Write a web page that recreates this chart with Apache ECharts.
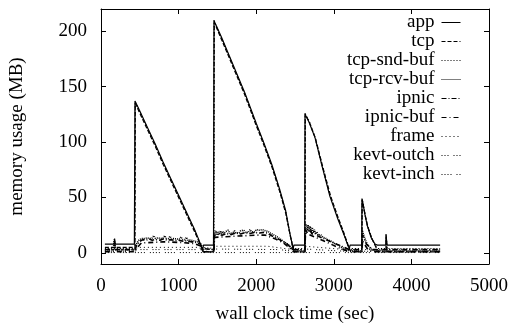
<!DOCTYPE html>
<html>
<head>
<meta charset="utf-8">
<script src="https://cdn.jsdelivr.net/npm/echarts@6/dist/echarts.min.js"></script>
<style>html,body{margin:0;padding:0;background:#fff}#c{width:512px;height:329px}</style>
</head>
<body>
<div id="c"></div>
<script>
const seriesNames = ['app','tcp','tcp-snd-buf','tcp-rcv-buf','ipnic','ipnic-buf','frame','kevt-outch','kevt-inch'];
const xTicks = [0,1000,2000,3000,4000,5000];
const yTicks = [0,50,100,150,200];

const app = [[50,8],[170,8],[175,13],[185,8],[430,8],[438,137],[445,136],[500,128],[600,113],[700,98],[800,82],[900,67],[1000,52],[1100,37],[1200,22],[1260,12],[1290,6],[1310,2],[1320,7],[1450,7],[1456,210],[1465,208],[1550,195],[1700,170],[1850,145],[2000,117],[2100,99],[2200,80],[2300,58],[2380,38],[2430,19],[2460,9],[2475,3],[2485,7],[2625,7],[2629,126],[2638,124],[2680,118],[2758,104],[2850,78],[2950,51],[3050,31],[3100,22],[3144,14],[3180,7],[3200,4],[3210,7],[3360,7],[3363,49],[3370,47],[3400,35],[3430,25],[3480,14],[3530,8],[3560,7],[3670,7],[3673,17],[3685,7],[4370,7]];
const tcp = [[50,5],[170,5],[175,11],[185,5],[438,5],[442,135],[500,126],[600,111],[700,96],[800,80],[900,65],[1000,50],[1100,35],[1200,20],[1265,10],[1300,4],[1320,1],[1450,1],[1460,208],[1550,193],[1700,168],[1850,143],[2000,115],[2100,97],[2200,78],[2300,56],[2380,36],[2435,17],[2470,6],[2490,1],[2629,1],[2633,125],[2685,118],[2765,103],[2860,77],[2960,51],[3060,31],[3115,21],[3160,12],[3195,5],[3220,1],[3363,1],[3366,48],[3405,34],[3437,24],[3490,13],[3545,5],[3580,1],[3673,1],[3676,15],[3688,1],[4370,1]];
const tcpSndBuf = [[50,4],[438,4],[440,136],[500,127],[600,112],[700,97],[800,81],[900,66],[1000,51],[1100,36],[1200,21],[1262,11],[1295,5],[1315,4],[1456,4],[1458,209],[1550,194],[1700,169],[1850,144],[2000,116],[2100,98],[2200,79],[2300,57],[2380,37],[2432,18],[2465,7],[2480,4],[2629,4],[2631,125],[2682,119],[2762,103],[2855,77],[2955,51],[3055,31],[3108,21],[3152,13],[3188,6],[3205,4],[3363,4],[3365,48],[3402,35],[3433,25],[3485,14],[3538,6],[3560,4],[3673,4],[3675,16],[3687,4],[4370,4]];
const tcpRcvBuf = [[50,3],[160,3],[170,12],[185,3],[438,3],[450,7],[480,11],[520,13],[540,14.5],[560,13],[590,13.5],[610,15],[630,13],[660,13.5],[680,15.5],[700,13],[730,13.5],[750,15],[770,13],[800,13.5],[820,15.5],[840,13],[870,13],[890,15],[910,12.5],[940,13],[960,14.5],[980,12.5],[1010,12.5],[1030,14.5],[1050,12],[1080,12],[1100,14],[1120,11.5],[1150,11.5],[1170,13],[1190,11],[1220,10.5],[1250,10],[1280,9],[1300,6],[1315,1],[1456,1],[1462,17],[1480,20],[1495,16],[1510,19.5],[1525,16.5],[1540,20],[1555,17],[1570,19.5],[1585,17],[1600,19],[1620,17.5],[1640,20.5],[1660,17.5],[1680,19],[1700,18],[1720,20],[1740,18],[1760,19.5],[1780,18],[1800,20],[1820,18.5],[1840,20.5],[1860,18.5],[1880,19.5],[1900,18.5],[1920,21],[1940,19],[1960,20],[1980,19],[2000,21],[2020,19.5],[2040,20.5],[2060,19.5],[2080,21],[2100,19.5],[2120,20],[2150,19.5],[2180,18],[2220,16.5],[2260,15],[2300,13],[2340,11],[2380,9],[2420,7],[2450,5],[2475,2],[2629,2],[2633,22],[2645,26],[2658,20],[2670,25],[2683,19],[2696,24],[2710,18],[2722,23],[2736,18],[2750,21],[2765,17],[2780,19],[2800,16],[2830,16.5],[2860,14],[2890,13.5],[2920,12],[2950,11],[2980,10],[3010,8.5],[3040,7.5],[3070,6.5],[3100,5],[3130,4],[3160,3],[3200,2],[3363,2],[3368,20],[3400,13],[3430,8],[3470,4],[3520,2],[4370,2]];
const ipnic = [[50,3],[438,3],[460,7],[500,10.5],[540,12],[580,11.5],[620,12.5],[660,11.5],[700,12],[760,11.5],[800,12.5],[850,11.5],[900,12],[960,11],[1000,11.5],[1060,10.5],[1100,11],[1160,10],[1200,10],[1280,8],[1305,4],[1320,3],[1456,3],[1462,16],[1520,17],[1560,16],[1620,17.5],[1680,16.5],[1740,18],[1800,17],[1860,18.5],[1920,17.5],[1980,18.5],[2040,18],[2100,18.5],[2140,18],[2200,15.5],[2300,12],[2400,8],[2470,3],[2629,3],[2634,21],[2660,18],[2690,21],[2720,17],[2760,17.5],[2800,15],[2900,12],[3000,9],[3100,6],[3200,3],[3363,3],[3368,16],[3420,8],[3500,3],[4370,3]];
const ipnicBuf = [[50,1],[438,1],[470,5],[520,9],[800,10],[1000,9.5],[1200,8.5],[1290,6],[1310,1],[1456,1],[1462,14],[1700,15],[2000,16],[2120,16],[2250,12.5],[2350,9],[2440,4],[2475,1],[2629,1],[2634,18],[2750,14.5],[2900,10],[3050,5],[3180,1.5],[3363,1],[3370,11],[3430,4],[3500,1],[4370,1]];
const frame = [[50,2.5],[438,2.5],[480,5],[1250,5],[1310,3],[1456,3],[1462,6],[2150,6],[2470,3],[2629,3],[2634,6],[3150,3],[4370,3]];
const kevtOutch = [[50,1.5],[438,1.5],[480,3],[1280,3],[1310,1.5],[1456,1.5],[1462,3.5],[2300,3],[2470,1.5],[2629,1.5],[2634,3.5],[3150,1.5],[4370,1.5]];
const kevtInch = [[50,0.3],[4370,0.3]];

const datasets = [app, tcp, tcpSndBuf, tcpRcvBuf, ipnic, ipnicBuf, frame, kevtOutch, kevtInch];
const dashes = ['solid',[4,2],[1,2],[1,1],[5,2,1,2],[5,3,1,3],[1,3],[1,2,1,2,1,5],[1,2,1,2,1,2,1,5]];
const widths = [1.2,1.2,1.2,1.6,1.6,1.6,1,1,1];

const FONT = 'Liberation Serif';
const FS = 19;
const chart = echarts.init(document.getElementById('c'), null, {renderer:'canvas'});
const baseAxisX = {
  type:'value', min:0, max:5000, interval:1000,
  splitLine:{show:false},
  axisLine:{show:true, onZero:false, lineStyle:{color:'#000', width:1}},
  axisTick:{show:true, inside:true, length:5, lineStyle:{color:'#000'}}
};
const baseAxisY = {
  type:'value', min:-10, max:220,
  splitLine:{show:false},
  axisLine:{show:true, onZero:false, lineStyle:{color:'#000', width:1}},
  axisTick:{show:true, inside:true, length:5, customValues:yTicks, lineStyle:{color:'#000'}}
};
chart.setOption({
  animation:false,
  backgroundColor:'#fff',
  textStyle:{fontFamily:FONT, color:'#000'},
  grid:{left:101, right:23, top:9, bottom:60, containLabel:false},
  legend:{
    orient:'vertical', right:46, top:8, align:'right',
    itemWidth:19, itemHeight:10, itemGap:0,
    itemStyle:{opacity:0, borderWidth:0},
    lineStyle:{width:1},
    textStyle:{fontFamily:FONT, fontSize:FS, color:'#000', padding:[0,2,0,0]},
    data:seriesNames
  },
  xAxis:[
    Object.assign({}, baseAxisX, {position:'bottom',
      name:'wall clock time (sec)', nameLocation:'middle', nameGap:41,
      nameTextStyle:{fontFamily:FONT, fontSize:FS, color:'#000'},
      axisLabel:{fontFamily:FONT, fontSize:FS, color:'#000', margin:13, formatter:v=>String(v)}}),
    Object.assign({}, baseAxisX, {position:'top', axisLabel:{show:false}})
  ],
  yAxis:[
    Object.assign({}, baseAxisY, {position:'left',
      name:'memory usage (MB)', nameLocation:'middle', nameGap:74,
      nameTextStyle:{fontFamily:FONT, fontSize:FS, color:'#000'},
      axisLabel:{fontFamily:FONT, fontSize:FS, color:'#000', margin:14, customValues:yTicks, formatter:v=>String(v)}}),
    Object.assign({}, baseAxisY, {position:'right', axisLabel:{show:false}})
  ],
  series: seriesNames.map((n,i)=>({
    name:n, type:'line', data:datasets[i], showSymbol:false, symbol:'none',
    xAxisIndex:0, yAxisIndex:0,
    lineStyle:{color:'#000', width:widths[i], type:dashes[i]},
    itemStyle:{color:'#000'}
  }))
});
</script>
</body>
</html>
